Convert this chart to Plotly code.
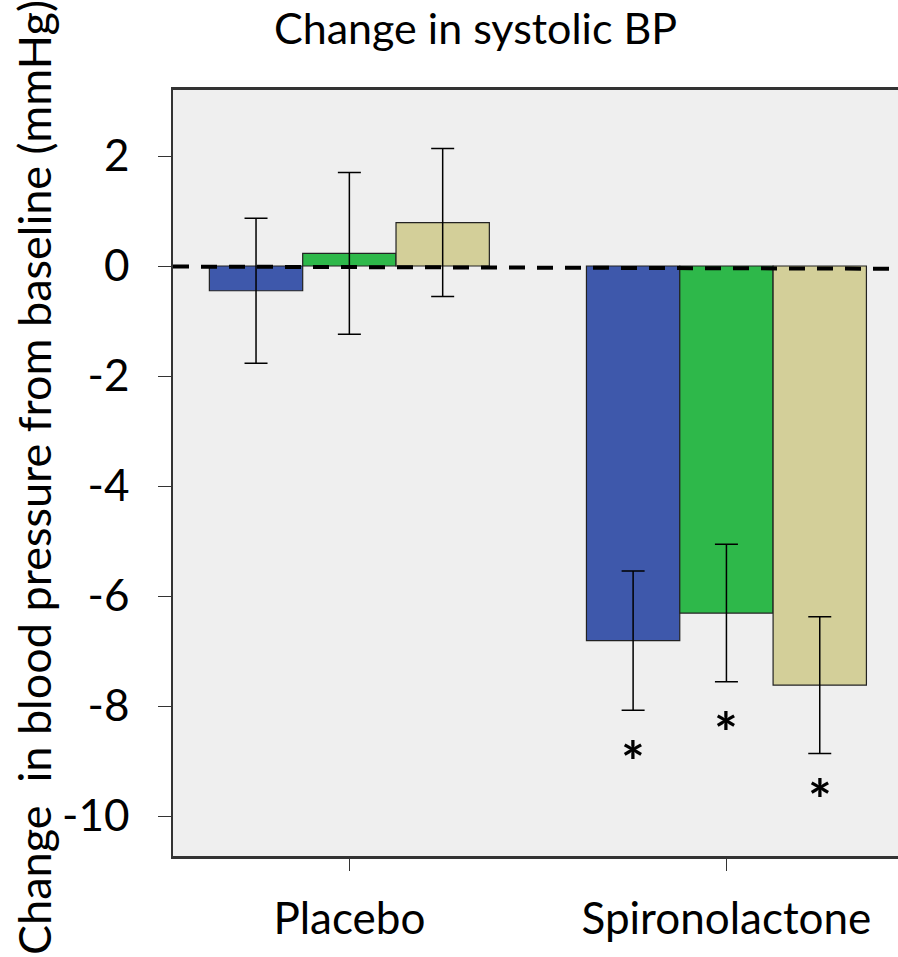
import plotly.graph_objects as go

categories = ["Placebo", "Spironolactone"]
series_names = ["Series 1", "Series 2", "Series 3"]
series_colors = ["#3E58AB", "#2EB84A", "#D3CF99"]
means = [
    [-0.45, -6.81],
    [0.23, -6.31],
    [0.79, -7.62],
]
errors = [
    [1.32, 1.265],
    [1.47, 1.25],
    [1.345, 1.245],
]
star_y = [-8.77, -8.24, -9.47]
y_ticks = [2, 0, -2, -4, -6, -8, -10]

FONT = "Lato"
BARGAP = 0.2575
n_series = len(series_names)
bar_w = (1 - BARGAP) / n_series

fig = go.Figure()
for name, color, m, e in zip(series_names, series_colors, means, errors):
    fig.add_trace(go.Bar(
        x=categories, y=m, name=name,
        marker=dict(color=color, line=dict(color="#222222", width=1.2)),
        error_y=dict(type="data", array=e, symmetric=True, color="black",
                     thickness=1.5, width=11.5),
    ))

annotations = []
for i, sy in enumerate(star_y):
    annotations.append(dict(
        x=1 + (i - (n_series - 1) / 2) * bar_w, y=sy, xref="x", yref="y",
        text="<b>*</b>", showarrow=False, font=dict(family=FONT, size=56, color="black"),
        yanchor="middle", xanchor="center", yshift=-12,
    ))
annotations.append(dict(
    x=-0.1917, y=0.4935, xref="paper", yref="paper",
    text="Change  in blood pressure from baseline (mmHg)", textangle=-90,
    showarrow=False, font=dict(family=FONT, size=45, color="black"),
    xanchor="center", yanchor="middle",
))
annotations.append(dict(
    x=0.4166, y=856 / 766, xref="paper", yref="paper",
    text="Change in systolic BP", showarrow=False,
    font=dict(family=FONT, size=43, color="black"),
    xanchor="center", yanchor="top",
))

fig.update_layout(
    width=898, height=957,
    margin=dict(l=173, r=0, t=90, b=101),
    paper_bgcolor="white", plot_bgcolor="#EFEFEF",
    barmode="group", bargap=BARGAP, bargroupgap=0,
    showlegend=False,
    font=dict(family=FONT, color="black"),
    annotations=annotations,
    shapes=[dict(type="line", xref="paper", yref="y", x0=0, x1=1, y0=-0.01, y1=-0.05,
                 line=dict(color="black", width=4, dash="16px,12px"), layer="above")],
)
fig.update_xaxes(
    range=[-0.4677, 1.455], showgrid=False, zeroline=False,
    showline=True, linecolor="#333333", linewidth=2.5, mirror=True,
    ticks="outside", ticklen=12, tickcolor="#333333", tickwidth=1,
    tickfont=dict(family=FONT, size=44, color="black"), ticklabelstandoff=10,
)
fig.update_yaxes(
    range=[-10.727, 3.2], showgrid=False, zeroline=False,
    showline=True, linecolor="#333333", linewidth=1.5,
    tickvals=y_ticks, ticktext=[str(v) for v in y_ticks],
    ticks="outside", ticklen=13, tickcolor="#333333", tickwidth=1,
    tickfont=dict(family=FONT, size=44, color="black"), ticklabelstandoff=20,
)

fig.write_html(
    "out.html",
    config={"displayModeBar": False},
    post_script="document.body.style.margin='0';document.body.style.overflow='hidden';",
)
